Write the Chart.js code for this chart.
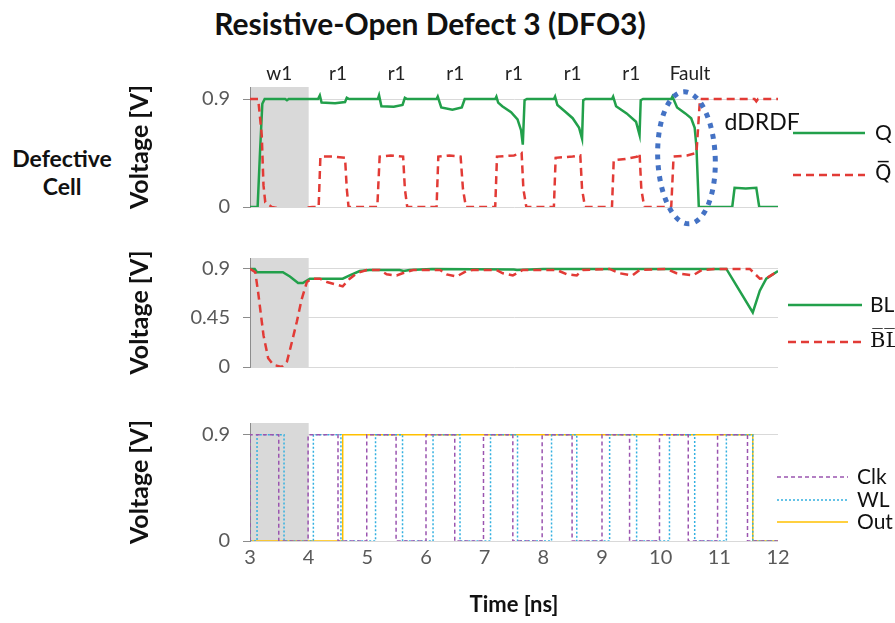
<!DOCTYPE html>
<html>
<head>
<meta charset="utf-8">
<script src="https://cdn.jsdelivr.net/npm/chart.js@4.4.0/dist/chart.umd.min.js"></script>
<style>
  body { margin: 0; background: #fff; }
  #wrap { position: relative; width: 895px; height: 623px; overflow: hidden; font-family: Lato, sans-serif; color: #111; }
  canvas { position: absolute; left: 0; }
  .title { position: absolute; left: 0; top: 5px; width: 860px; text-align: center; font-weight: bold; font-size: 30px; line-height: 36px; }
  .side { position: absolute; left: 0; top: 144px; width: 124px; text-align: center; font-weight: bold; font-size: 23px; line-height: 28px; }
</style>
</head>
<body>
<div id="wrap">
  <div class="title">Resistive-Open Defect 3 (DFO3)</div>
  <div class="side">Defective<br>Cell</div>
  <canvas id="c1" width="895" height="232" style="top:0"></canvas>
  <canvas id="c2" width="895" height="160" style="top:232px"></canvas>
  <canvas id="c3" width="895" height="231" style="top:392px"></canvas>
</div>
<script>
// ---- data (time in ns, voltage in V) ----
const yTicksCell = [0, 0.9];
const yTicksBL = [0, 0.45, 0.9];
const yTicksCtl = [0, 0.9];
const shadeRange = [3, 4];
const opNames = ['w1', 'r1', 'r1', 'r1', 'r1', 'r1', 'r1', 'Fault'];
const opTimes = [3.5, 4.5, 5.5, 6.5, 7.5, 8.5, 9.5, 10.5];

// Q (defective cell node)
const qTime = [3.00, 3.13, 3.17, 3.21, 3.25, 3.60, 3.63, 3.66,
  4.16, 4.19, 4.22, 4.45, 4.62, 4.65, 4.69,
  5.18, 5.20, 5.24, 5.45, 5.60, 5.64, 5.68,
  6.18, 6.20, 6.26, 6.45, 6.61, 6.66,
  7.18, 7.20, 7.23, 7.30, 7.45, 7.56, 7.62, 7.65, 7.68, 7.72,
  8.18, 8.20, 8.24, 8.36, 8.50, 8.61, 8.66, 8.68, 8.72,
  9.17, 9.19, 9.24, 9.42, 9.58, 9.64, 9.66, 9.70,
  10.18, 10.20, 10.28, 10.42, 10.52, 10.58, 10.61, 10.65,
  11.22, 11.26, 11.45, 11.63, 11.68, 12.00];
const qVolt = [0, 0, 0.45, 0.86, 0.90, 0.90, 0.89, 0.90,
  0.90, 0.93, 0.87, 0.865, 0.875, 0.91, 0.90,
  0.90, 0.93, 0.84, 0.835, 0.85, 0.91, 0.90,
  0.90, 0.92, 0.83, 0.81, 0.83, 0.90,
  0.90, 0.92, 0.87, 0.84, 0.79, 0.73, 0.64, 0.52, 0.89, 0.90,
  0.90, 0.92, 0.85, 0.80, 0.74, 0.66, 0.57, 0.89, 0.90,
  0.90, 0.92, 0.84, 0.78, 0.71, 0.60, 0.89, 0.90,
  0.90, 0.92, 0.83, 0.78, 0.74, 0.66, 0.50, 0.00,
  0.00, 0.16, 0.155, 0.16, 0.00, 0.00];

// Q bar
const qbTime = [3.00, 3.14, 3.20, 3.23, 3.26, 3.37, 3.60, 3.90, 4.06,
  4.17, 4.20, 4.40, 4.62, 4.65, 4.68,
  5.17, 5.21, 5.40, 5.61, 5.64, 5.68,
  6.18, 6.21, 6.40, 6.59, 6.63, 6.68,
  7.18, 7.21, 7.50, 7.63, 7.66, 7.71,
  8.18, 8.21, 8.50, 8.63, 8.66, 8.71,
  9.17, 9.20, 9.40, 9.60, 9.64, 9.67, 9.72,
  10.18, 10.22, 10.45, 10.61, 10.67, 11.60, 11.63, 11.66, 12.00];
const qbVolt = [0.90, 0.90, 0.60, 0.18, 0.04, 0.00, -0.02, -0.01, 0.00,
  0.00, 0.42, 0.42, 0.41, 0.15, 0.00,
  0.00, 0.42, 0.43, 0.42, 0.15, 0.00,
  0.00, 0.42, 0.43, 0.42, 0.15, 0.00,
  0.00, 0.42, 0.43, 0.45, 0.15, 0.00,
  0.00, 0.41, 0.42, 0.43, 0.15, 0.00,
  0.00, 0.39, 0.40, 0.42, 0.45, 0.15, 0.00,
  0.00, 0.42, 0.43, 0.45, 0.90, 0.90, 0.88, 0.90, 0.90];

// BL
const blTime = [3.00, 3.08, 3.12, 3.56, 3.68, 3.82, 3.90, 4.02, 4.58, 4.70, 4.87, 5.04,
  5.55, 5.62, 5.72, 6.10, 7.50, 7.55, 8.00, 11.12, 11.57, 11.69, 11.80, 12.00];
const blVolt = [0.90, 0.90, 0.87, 0.87, 0.83, 0.77, 0.77, 0.81, 0.81, 0.84, 0.88, 0.89,
  0.89, 0.88, 0.89, 0.90, 0.895, 0.89, 0.90, 0.90, 0.50, 0.70, 0.81, 0.88];

// BL bar
const blbTime = [3.00, 3.09, 3.14, 3.23, 3.31, 3.40, 3.54, 3.63, 3.71, 3.80, 3.88, 3.97,
  4.05, 4.19, 4.31, 4.58, 4.70, 4.82, 4.99,
  5.21, 5.33, 5.50, 5.60, 5.78,
  6.24, 6.35, 6.52, 6.69, 6.80,
  7.20, 7.31, 7.48, 7.65,
  8.23, 8.40, 8.57, 8.67,
  9.13, 9.30, 9.52, 9.64,
  10.10, 10.27, 10.55, 10.70,
  10.96, 11.52, 11.69, 11.82, 12.00];
const blbVolt = [0.90, 0.87, 0.68, 0.29, 0.08, 0.02, 0.00, 0.05, 0.22, 0.42, 0.62, 0.78,
  0.81, 0.81, 0.78, 0.74, 0.81, 0.86, 0.89,
  0.89, 0.85, 0.84, 0.86, 0.89,
  0.89, 0.85, 0.83, 0.88, 0.89,
  0.89, 0.86, 0.84, 0.89,
  0.89, 0.85, 0.84, 0.89,
  0.90, 0.86, 0.84, 0.89,
  0.90, 0.86, 0.84, 0.89,
  0.90, 0.90, 0.81, 0.82, 0.88];

// control signals (edge time, level after the edge)
const clkTime = [3.00, 3.00, 3.49, 3.99, 4.50, 4.99, 5.49, 6.00, 6.49, 6.98, 7.48,
  7.98, 8.49, 9.00, 9.47, 9.98, 10.47, 10.97, 11.48, 12.00];
const clkVolt = [0, 0.9, 0, 0.9, 0, 0.9, 0, 0.9, 0, 0.9, 0,
  0.9, 0, 0.9, 0, 0.9, 0, 0.9, 0, 0];
const wlTime = [3.00, 3.12, 3.58, 4.08, 4.55, 5.14, 5.60, 6.12, 6.58, 7.10, 7.56,
  8.14, 8.57, 9.13, 9.59, 10.15, 10.58, 11.12, 11.57, 12.00];
const wlVolt = [0, 0.9, 0, 0.9, 0, 0.9, 0, 0.9, 0, 0.9, 0,
  0.9, 0, 0.9, 0, 0.9, 0, 0.9, 0, 0];
const outTime = [3.00, 4.58, 11.57, 12.00];
const outVolt = [0, 0.9, 0, 0];

// ---- helpers ----
Chart.defaults.font.family = 'Lato, sans-serif';
Chart.defaults.color = '#595959';

const GREEN = '#22A04B', RED = '#E23B36';

function series(ts, vs) {
  return ts.map((t, i) => ({ x: t, y: vs[i] }));
}

function line(label, ts, vs, color, width, dash, extra) {
  return Object.assign({
    label: label, data: series(ts, vs),
    borderColor: color, borderWidth: width, borderDash: dash,
    pointRadius: 0, fill: false, tension: 0
  }, extra || {});
}

const shadePlugin = {
  id: 'shade',
  beforeDraw(chart, args, opts) {
    const { ctx, chartArea: a, scales: { x } } = chart;
    const x0 = x.getPixelForValue(opts.from), x1 = x.getPixelForValue(opts.to);
    ctx.save();
    ctx.fillStyle = opts.color;
    ctx.fillRect(x0, a.top, x1 - x0, a.bottom - a.top);
    ctx.restore();
  }
};

// legend at the right of each panel, one row per dataset
const sideLegend = {
  id: 'sideLegend',
  afterDraw(chart, args, opts) {
    const ctx = chart.ctx;
    chart.data.datasets.forEach((ds, i) => {
      const y = opts.rows[i];
      ctx.save();
      ctx.strokeStyle = ds.borderColor;
      ctx.lineWidth = ds.borderWidth;
      ctx.setLineDash(ds.borderDash || []);
      ctx.beginPath();
      ctx.moveTo(opts.x0, y);
      ctx.lineTo(opts.x1, y);
      ctx.stroke();
      ctx.fillStyle = '#111';
      ctx.font = opts.fonts[i];
      ctx.textBaseline = 'middle';
      ctx.fillText(ds.label, opts.textX, y);
      ctx.restore();
    });
  }
};

// operation labels, fault ellipse and dDRDF note on the cell panel
const cellNotes = {
  id: 'cellNotes',
  afterDraw(chart, args, opts) {
    const { ctx, scales: { x, y } } = chart;
    ctx.save();
    ctx.fillStyle = '#222';
    ctx.font = '19px Lato, sans-serif';
    ctx.textAlign = 'center';
    ctx.textBaseline = 'middle';
    opNames.forEach((n, i) => ctx.fillText(n, x.getPixelForValue(opTimes[i]), opts.labelY));

    const e = opts.ellipse;
    const cx = x.getPixelForValue(e.t), cy = y.getPixelForValue(e.v);
    const rx = x.getPixelForValue(e.t + e.rt) - cx;
    const ry = cy - y.getPixelForValue(e.v + e.rv);
    ctx.strokeStyle = '#4472C4';
    ctx.lineWidth = 5;
    ctx.setLineDash([5, 6]);
    ctx.beginPath();
    ctx.ellipse(cx, cy, rx, ry, e.rot, 0, Math.PI * 2);
    ctx.stroke();

    ctx.fillStyle = '#111';
    ctx.font = '23px Lato, sans-serif';
    ctx.textAlign = 'left';
    ctx.fillText(opts.note.text, x.getPixelForValue(opts.note.t), y.getPixelForValue(opts.note.v));
    ctx.restore();
  }
};

function panelOptions(cfg) {
  return {
    responsive: false,
    animation: false,
    layout: { padding: { left: 122, right: 117, top: cfg.top, bottom: cfg.bottom } },
    plugins: {
      legend: { display: false },
      tooltip: { enabled: false },
      shade: { from: shadeRange[0], to: shadeRange[1], color: '#D9D9D9' },
      sideLegend: cfg.legend,
      cellNotes: cfg.notes || {}
    },
    scales: {
      x: {
        type: 'linear', min: 3, max: 12, display: cfg.showX,
        grid: { display: false, drawTicks: false },
        border: { display: false },
        ticks: { stepSize: 1, padding: 5, font: { size: 20 }, color: '#595959' },
        title: {
          display: cfg.showX, text: 'Time [ns]', color: '#111',
          font: { size: 22, weight: 'bold' }, padding: { top: 0, bottom: 5 }
        },
        afterFit: s => { if (cfg.showX) s.height = 82; }
      },
      y: {
        type: 'linear', min: 0, max: 1,
        afterBuildTicks: s => { s.ticks = cfg.yTicks.map(v => ({ value: v })); },
        afterFit: s => { s.width = 128; },
        grid: { color: '#D9D9D9', tickColor: '#8C8C8C', tickLength: 7 },
        border: { display: true, color: '#8C8C8C' },
        ticks: { padding: 13, font: { size: 20 }, color: '#595959', callback: v => String(v) },
        title: {
          display: true, text: 'Voltage [V]', color: '#111',
          font: { size: 25, weight: 'bold' }, padding: { top: 3, bottom: 0 }
        }
      }
    }
  };
}

// ---- panel 1: defective cell ----
new Chart(document.getElementById('c1'), {
  type: 'line',
  data: {
    datasets: [
      line('Q', qTime, qVolt, GREEN, 2.5, [], { order: 1 }),
      line('Q\u0305', qbTime, qbVolt, RED, 2.5, [8, 5], { order: 0 })
    ]
  },
  options: panelOptions({
    top: 87, bottom: 25, showX: false, yTicks: yTicksCell,
    legend: { rows: [133, 175], x0: 793, x1: 865, textX: 875,
      fonts: ['21px Lato, sans-serif', '21px "DejaVu Sans", sans-serif'] },
    notes: {
      labelY: 74,
      ellipse: { t: 10.44, v: 0.41, rt: 0.49, rv: 0.55, rot: -0.04 },
      note: { text: 'dDRDF', t: 11.09, v: 0.70 }
    }
  }),
  plugins: [shadePlugin, sideLegend, cellNotes]
});

// ---- panel 2: bit lines ----
new Chart(document.getElementById('c2'), {
  type: 'line',
  data: {
    datasets: [
      line('BL', blTime, blVolt, GREEN, 2.5, [], { order: 1 }),
      line('B\u0305L\u0305', blbTime, blbVolt, RED, 2.5, [8, 5], { order: 0 })
    ]
  },
  options: panelOptions({
    top: 26, bottom: 4, showX: false, yTicks: yTicksBL,
    legend: { rows: [73, 110], x0: 788, x1: 862, textX: 870,
      fonts: ['21px Lato, sans-serif', '21px "DejaVu Serif", serif'] }
  }),
  plugins: [shadePlugin, sideLegend]
});

// ---- panel 3: control signals ----
new Chart(document.getElementById('c3'), {
  type: 'line',
  data: {
    datasets: [
      line('Clk', clkTime, clkVolt, '#9B55B0', 1.5, [4, 3], { stepped: 'before' }),
      line('WL', wlTime, wlVolt, '#33B0E0', 1.5, [2, 2], { stepped: 'before' }),
      line('Out', outTime, outVolt, '#FFC000', 1.5, [], { stepped: 'before' })
    ]
  },
  options: panelOptions({
    top: 31, bottom: 0, showX: true, yTicks: yTicksCtl,
    legend: { rows: [85, 108, 130], x0: 777, x1: 848, textX: 857,
      fonts: ['21px Lato, sans-serif', '21px Lato, sans-serif', '21px Lato, sans-serif'] }
  }),
  plugins: [shadePlugin, sideLegend]
});
</script>
</body>
</html>
